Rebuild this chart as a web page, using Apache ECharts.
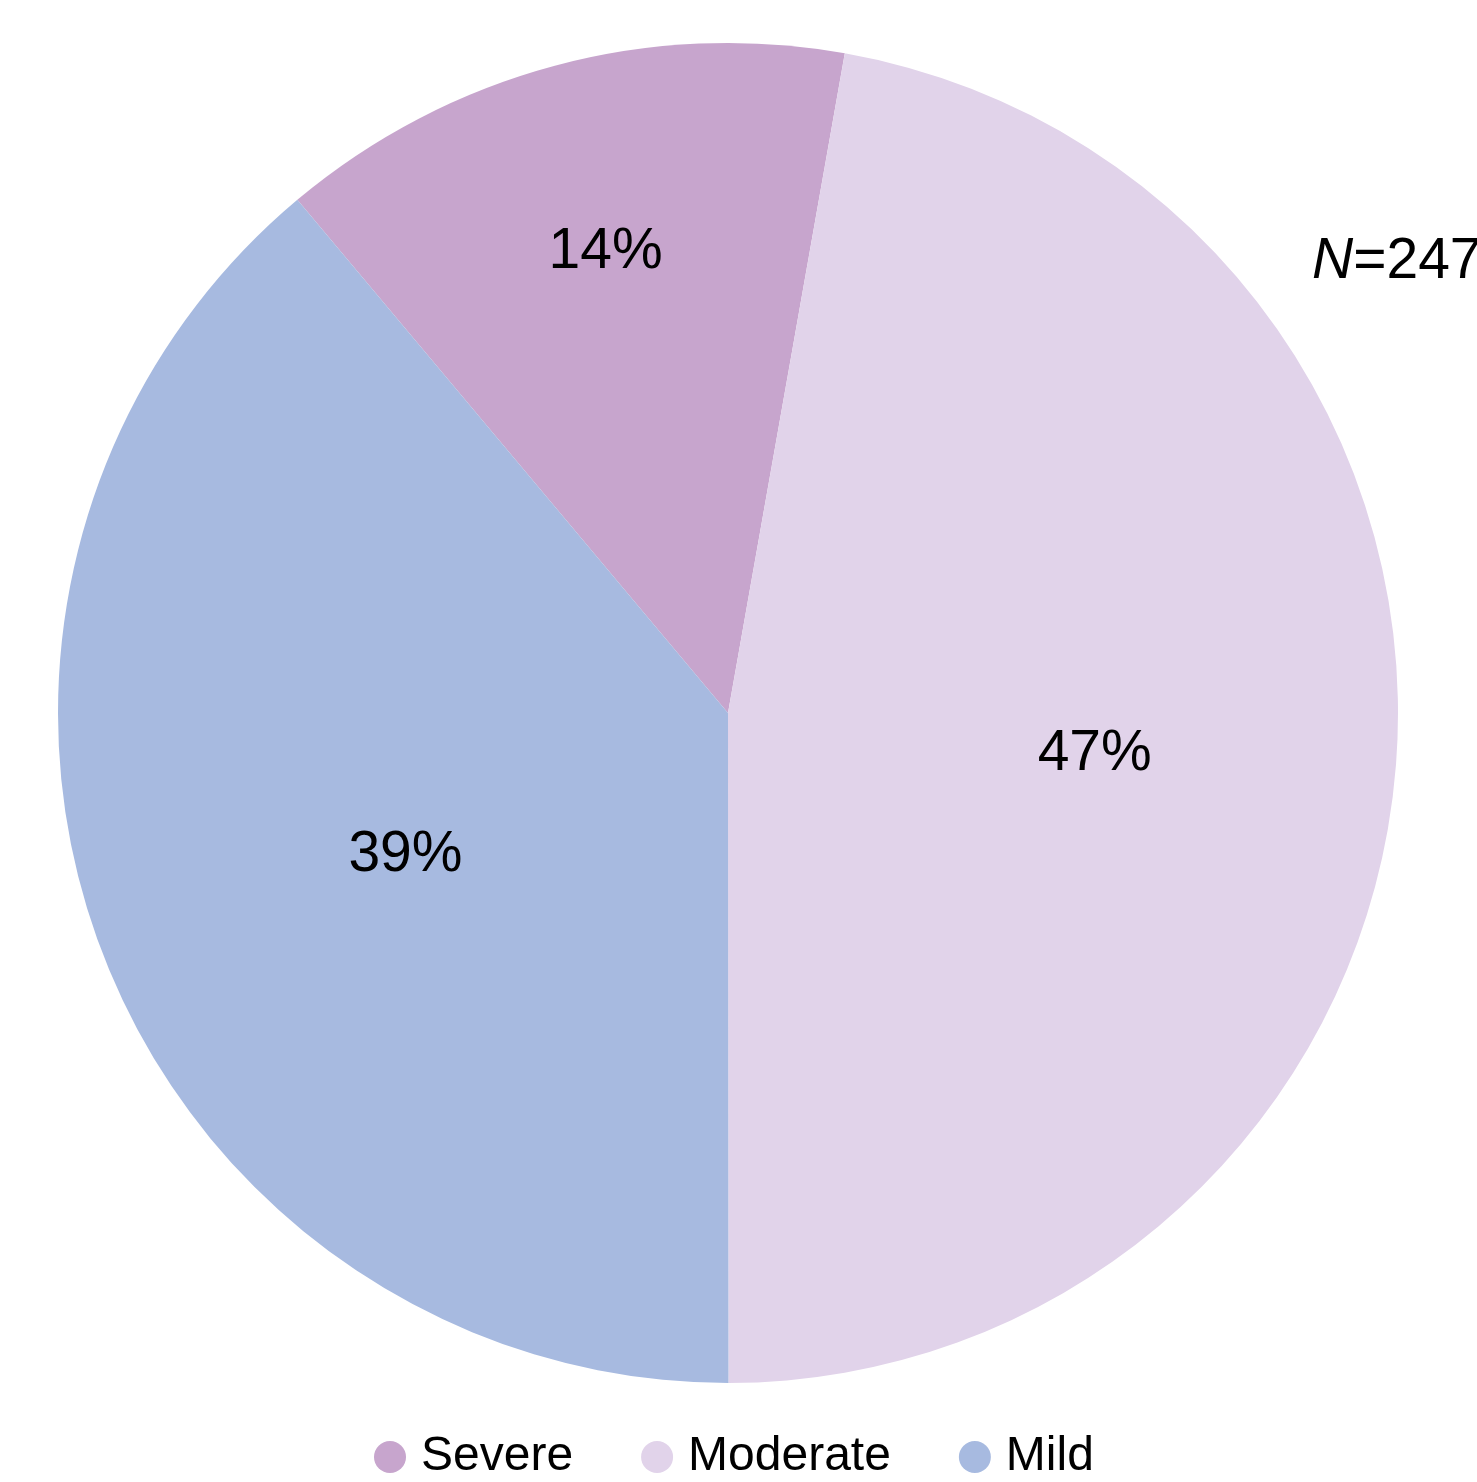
<!DOCTYPE html>
<html>
<head>
<meta charset="utf-8">
<script src="https://cdn.jsdelivr.net/npm/echarts@6/dist/echarts.min.js"></script>
<style>
  html, body { margin: 0; padding: 0; background: #fff; }
  #main { width: 1477px; height: 1482px; }
</style>
</head>
<body>
<div id="main"></div>
<script>
  // severity split, N=247
  var categories = ['Severe', 'Moderate', 'Mild'];
  var shares = [13.9, 47.2, 38.9];
  var colors = ['#C7A5CD', '#E1D3EA', '#A7BAE0'];
  var sampleSize = 247;

  // nudges for the inside labels (px)
  var labelNudge = [[-35, -134], [30, 12], [-5, 27]];

  var chart = echarts.init(document.getElementById('main'));
  var font = "'Liberation Sans', Arial, sans-serif";

  chart.setOption({
    backgroundColor: '#fff',
    animation: false,
    color: colors,
    title: {
      text: '{i|N}=' + sampleSize,
      left: 1312,
      top: 234,
      padding: 0,
      textStyle: {
        fontFamily: font,
        fontSize: 57,
        fontWeight: 'normal',
        color: '#000',
        rich: {
          i: { fontFamily: font, fontSize: 57, fontStyle: 'italic', color: '#000' }
        }
      }
    },
    legend: {
      data: categories,
      left: 369,
      top: 1428,
      icon: 'circle',
      itemWidth: 32,
      itemHeight: 32,
      itemGap: 68,
      textStyle: {
        fontFamily: font,
        fontSize: 48,
        color: '#000',
        padding: [0, 0, 0, 10]
      }
    },
    series: [{
      type: 'pie',
      center: [728, 713],
      radius: 670,
      startAngle: 130,
      clockwise: true,
      percentPrecision: 0,
      data: categories.map(function (c, i) {
        return { name: c, value: shares[i] };
      }),
      label: {
        show: true,
        position: 'inside',
        formatter: '{d}%',
        fontFamily: font,
        fontSize: 57,
        color: '#000'
      },
      labelLayout: function (p) {
        var n = labelNudge[p.dataIndex];
        return { dx: n[0], dy: n[1] };
      },
      labelLine: { show: false },
      itemStyle: { borderWidth: 0 },
      emphasis: { disabled: true }
    }]
  });
</script>
</body>
</html>
